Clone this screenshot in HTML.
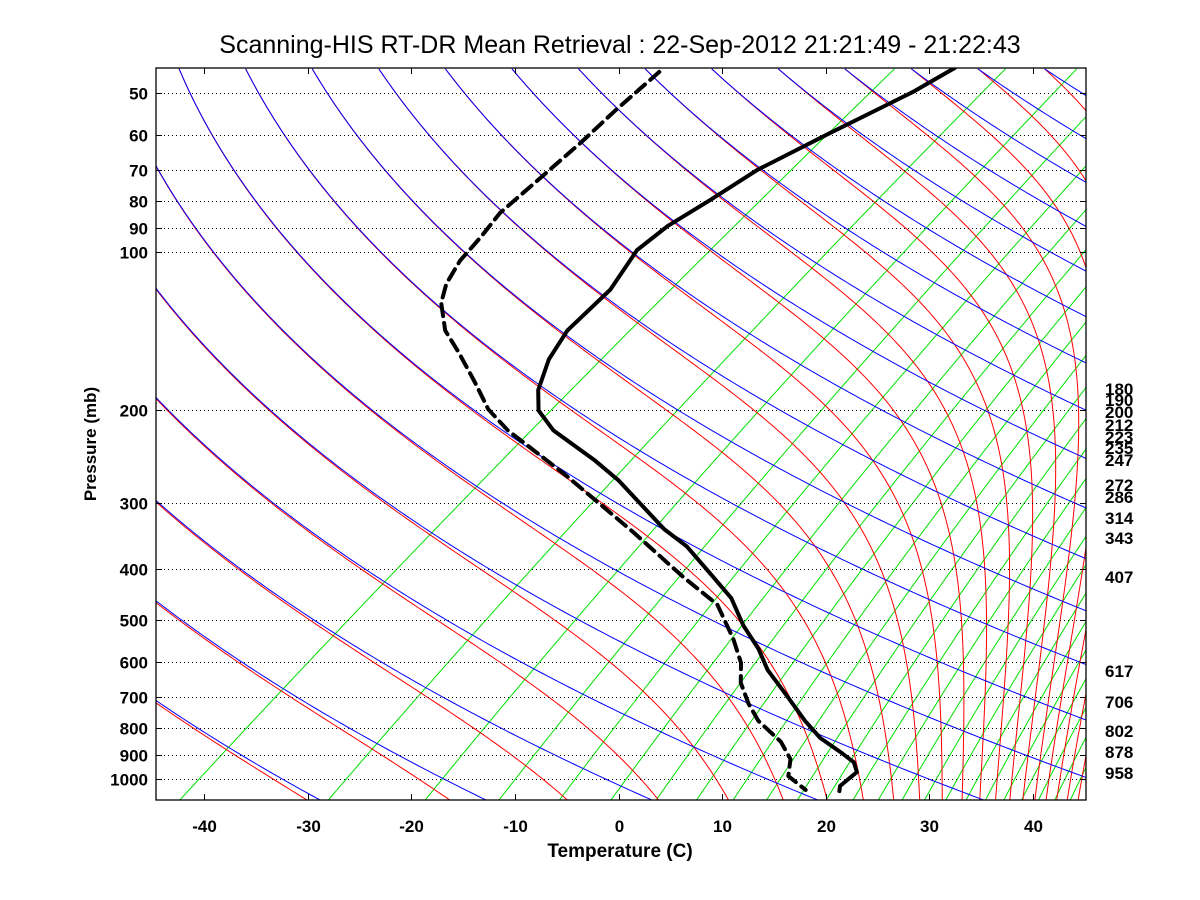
<!DOCTYPE html>
<html><head><meta charset="utf-8"><title>Skew-T</title>
<style>
html,body{margin:0;padding:0;background:#fff;}
svg{display:block;font-family:"Liberation Sans",sans-serif;}
.tk{font-size:17px;font-weight:bold;fill:#000;}
</style></head>
<body>
<svg id="chart" width="1200" height="900" viewBox="0 0 1200 900" xmlns="http://www.w3.org/2000/svg">
<rect x="0" y="0" width="1200" height="900" fill="#fff"/>
<text x="620" y="53" text-anchor="middle" font-size="25">Scanning-HIS RT-DR Mean Retrieval : 22-Sep-2012 21:21:49 - 21:22:43</text>
<defs><clipPath id="plotclip"><rect x="156" y="68" width="930" height="732"/></clipPath></defs>
<g id="bg" clip-path="url(#plotclip)"></g>
<g id="grid"></g>
<g id="snd" clip-path="url(#plotclip)"></g>
<rect x="156" y="68" width="930" height="732" fill="none" stroke="#000" stroke-width="1.3"/>
<g id="axes"></g>
<text x="620" y="857" text-anchor="middle" font-size="19" font-weight="bold">Temperature (C)</text>
<text x="96" y="444" text-anchor="middle" font-size="17" font-weight="bold" transform="rotate(-90 96 444)">Pressure (mb)</text>
</svg>
<script>
// ---- data ----
const tempPressure = [44.8,49.8,59.5,70,79.8,89.4,99.3,118,141,160,183,200,218,248,271,336,362,409,454,511,567,621,690,776,836,889,929,970,1000,1031,1054];
const tempValues = [-60.7,-61.6,-64.2,-66.4,-67.0,-67.7,-67.5,-64.9,-63.7,-61.7,-58.7,-56.0,-52.0,-44.2,-39.2,-28.3,-23.9,-17.9,-12.8,-8.1,-3.5,0.1,5.0,10.4,14.1,17.9,20.5,22.1,22.2,22.3,22.9];
const dewPressure = [45.6,53.9,62.2,72.2,84.4,93.7,104,115,125,141,156,177,199,218,235,263,301,341,414,467,542,602,657,720,776,850,917,987,1049];
const dewValues = [-88.7,-87.9,-87.0,-86.3,-85.6,-84.3,-83.2,-81.5,-79.5,-75.5,-71.1,-65.8,-61.0,-56.4,-52.0,-45.4,-37.8,-30.8,-20.2,-13.3,-7.3,-3.4,-0.8,2.7,5.9,10.8,14.0,16.0,19.5];
const xTicks = [-40,-30,-20,-10,0,10,20,30,40];
const pTicks = [50,60,70,80,90,100,200,300,400,500,600,700,800,900,1000];
const rightLabels = ["180","190","200","212","223","235","247","272","286","314","343","407","617","706","802","878","958"];
const rightLabelY = [389,400,412,425,437,448,460,485,497,518,538,577,671,702,731,752,773];

// ---- scales ----
const SKEW = 30, PTOP = 45, PBOT = 1100;
function xs(T, p){ return 618.5 + 10.36*(T + SKEW*Math.log(1000/p)); }
function ys(p){ return 93 + 229*Math.log(p/50); }
const NS = "http://www.w3.org/2000/svg";
function mk(tag, parent){ const e=document.createElementNS(NS,tag); parent.appendChild(e); return e; }
function pathD(pts){ return pts.map((q,i)=>(i?"L":"M")+q[0].toFixed(2)+" "+q[1].toFixed(2)).join(""); }

const bg = document.getElementById("bg");
const N = 240;
function es(Tc){ return 6.112*Math.exp(17.67*Tc/(Tc+243.5)); }

// green mixing-ratio lines
for (let n=1;n<=32;n++){
  const w = 0.1122*n*n;
  const pts=[];
  for (let i=0;i<=N;i++){
    const p = PTOP*Math.exp(Math.log(PBOT/PTOP)*i/N);
    const e = w*p/(622+w);
    const l = Math.log(e/6.112);
    const Td = 243.5*l/(17.67-l);
    pts.push([xs(Td,p), ys(p)]);
  }
  const el = mk("path", bg);
  
  
  el.setAttribute("d", pathD(pts)); el.setAttribute("fill","none"); el.setAttribute("stroke","#00e000"); el.setAttribute("stroke-width","1");
}

// red pseudoadiabats
const Rd=287, cp=1005, Lv=2.5e6, eps=0.622;
for (let k=-1;k<=32;k++){
  const th = 240.7 + 15.6*k;
  let T = th*Math.pow(PTOP/1000,0.286);
  const pts=[];
  const M=600, dl=Math.log(PBOT/PTOP)/M;
  for (let i=0;i<=M;i++){
    const p = PTOP*Math.exp(dl*i);
    if (i%3===0) pts.push([xs(T-273.15,p), ys(p)]);
    const f = (TT,pp)=>{ const e=es(TT-273.15); const rs=eps*e/Math.max(pp-e,1e-3);
      return (Rd*TT + Lv*rs)/(cp + Lv*Lv*rs*eps/(Rd*TT*TT)); };
    const k1=f(T,p), k2=f(T+dl*k1, p*Math.exp(dl));
    T += dl*(k1+k2)/2;
  }
  const el = mk("path", bg);
  
  
  el.setAttribute("d", pathD(pts)); el.setAttribute("fill","none"); el.setAttribute("stroke","#ff0000"); el.setAttribute("stroke-width","1");
}

// blue dry adiabats
for (let k=-1;k<=22;k++){
  const th = 240.7 + 15.6*k;
  const pts=[];
  for (let i=0;i<=N;i++){
    const p = PTOP*Math.exp(Math.log(PBOT/PTOP)*i/N);
    pts.push([xs(th*Math.pow(p/1000,0.286)-273.15,p), ys(p)]);
  }
  const el = mk("path", bg);
  
  
  el.setAttribute("d", pathD(pts)); el.setAttribute("fill","none"); el.setAttribute("stroke","#0000ff"); el.setAttribute("stroke-width","1");
}

// grid + axes
const grid = document.getElementById("grid"), axes = document.getElementById("axes");
pTicks.forEach(p=>{
  const y = Math.round(ys(p))+0.5;
  const g = mk("line", grid);
  
  
  g.setAttribute("x1",156); g.setAttribute("x2",1086); g.setAttribute("y1",y); g.setAttribute("y2",y);
  g.setAttribute("stroke","#000"); g.setAttribute("stroke-width","1"); g.setAttribute("stroke-dasharray","1 3");
  [[156,162],[1080,1086]].forEach(a=>{
    const t = mk("line", axes);
    
    
    t.setAttribute("x1",a[0]); t.setAttribute("x2",a[1]); t.setAttribute("y1",y); t.setAttribute("y2",y); t.setAttribute("stroke","#000");
  });
  const lb = mk("text", axes);
  
  
  lb.setAttribute("x",148); lb.setAttribute("y",y+6); lb.setAttribute("text-anchor","end"); lb.setAttribute("class","tk");
  lb.textContent = String(p);
});
xTicks.forEach(T=>{
  const x = Math.round(618.5+10.36*T)+0.5;
  [[800,794],[68,74]].forEach(a=>{
    const t = mk("line", axes);
    
    
    t.setAttribute("x1",x); t.setAttribute("x2",x); t.setAttribute("y1",a[0]); t.setAttribute("y2",a[1]); t.setAttribute("stroke","#000");
  });
  const lb = mk("text", axes);
  
  
  lb.setAttribute("x",x); lb.setAttribute("y",832); lb.setAttribute("text-anchor","middle"); lb.setAttribute("class","tk");
  lb.textContent = String(T);
});
rightLabels.forEach((s,i)=>{
  const lb = mk("text", axes);
  
  
  lb.setAttribute("x",1105); lb.setAttribute("y",rightLabelY[i]+6); lb.setAttribute("class","tk");
  lb.textContent = s;
});

// sounding profiles
const snd = document.getElementById("snd");
function profile(P, T, name, dash){
  const pts = P.map((p,i)=>[xs(T[i],p), ys(p)]);
  const el = mk("path", snd);
  
  
  el.setAttribute("d", pathD(pts)); el.setAttribute("fill","none"); el.setAttribute("stroke","#000");
  el.setAttribute("stroke-width","4"); el.setAttribute("stroke-linejoin","round"); el.setAttribute("stroke-linecap","round");
  if (dash) el.setAttribute("stroke-dasharray","12 7");
}
profile(tempPressure, tempValues, "temperature-profile", false);
profile(dewPressure, dewValues, "dewpoint-profile", true);
</script>
</body></html>
